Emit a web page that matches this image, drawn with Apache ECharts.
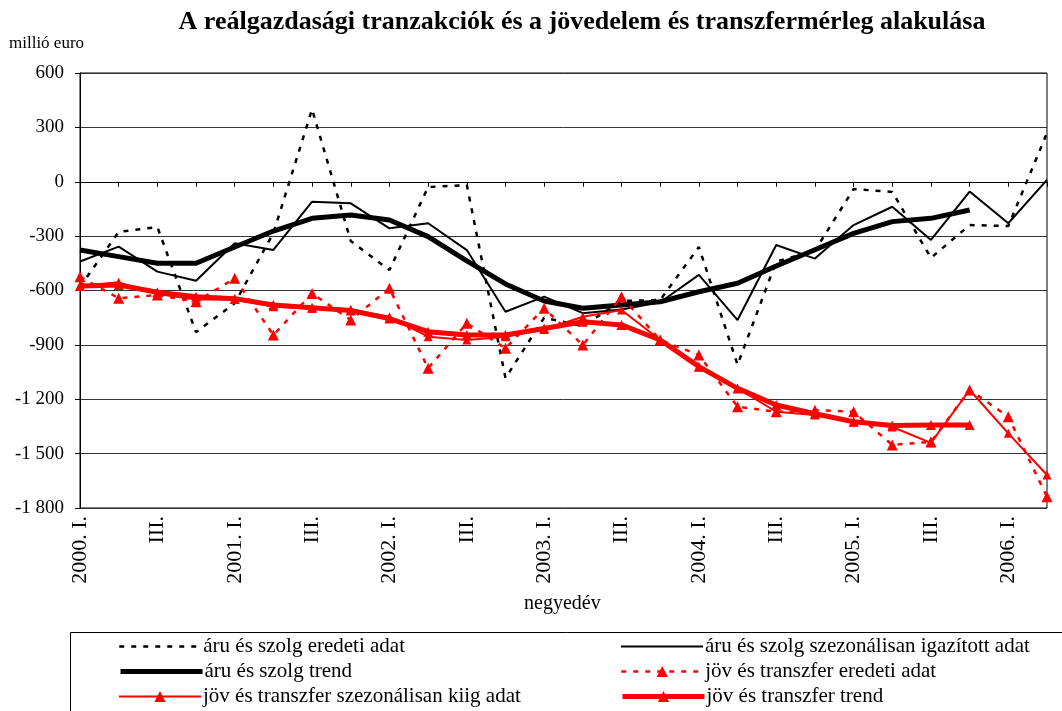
<!DOCTYPE html>
<html>
<head>
<meta charset="utf-8">
<script src="https://cdn.jsdelivr.net/npm/echarts@6/dist/echarts.min.js"></script>
<style>
html,body{margin:0;padding:0;background:#fff;}
#chart{width:1062px;height:711px;}
</style>
</head>
<body>
<div id="chart"></div>
<script>
const categories = [
  '2000. I.','II.','III.','IV.',
  '2001. I.','II.','III.','IV.',
  '2002. I.','II.','III.','IV.',
  '2003. I.','II.','III.','IV.',
  '2004. I.','II.','III.','IV.',
  '2005. I.','II.','III.','IV.',
  '2006. I.','II.'
];
const aruEredeti = [-580,-277,-250,-830,-670,-283,400,-327,-487,-29,-18,-1083,-750,-796,-658,-652,-360,-1010,-440,-380,-40,-56,-420,-239,-244,269];
const aruSzezon  = [-440,-358,-496,-546,-339,-376,-110,-119,-257,-229,-377,-717,-634,-725,-705,-665,-514,-763,-349,-424,-239,-138,-321,-54,-229,10];
const aruTrend   = [-377,-413,-450,-450,-360,-272,-202,-183,-211,-303,-437,-564,-658,-698,-680,-662,-607,-560,-465,-375,-285,-220,-202,-156,null,null];
const jovEredeti = [-524,-643,-625,-662,-533,-846,-616,-763,-588,-1029,-781,-919,-698,-901,-634,-873,-956,-1241,-1269,-1260,-1269,-1452,-1435,-1149,-1296,-1738];
const jovSzezon  = [-575,-555,-620,-650,-650,-689,-698,-705,-745,-855,-873,-855,-815,-745,-708,-873,-1020,-1140,-1269,-1287,-1324,-1353,-1441,-1149,-1388,-1618];
const jovTrend   = [-575,-570,-610,-635,-645,-680,-695,-710,-755,-827,-845,-845,-810,-772,-790,-873,-1020,-1140,-1232,-1280,-1324,-1345,-1342,-1342,null,null];
const seriesNames = [
  'áru és szolg eredeti adat',
  'áru és szolg szezonálisan igazított adat',
  'áru és szolg trend',
  'jöv és transzfer eredeti adat',
  'jöv és transzfer szezonálisan kiig adat',
  'jöv és transzfer trend'
];

const serif = 'Liberation Serif';
const lineStyles = [
  {color:'#000', width:2.5, type:[5,7]},
  {color:'#000', width:2},
  {color:'#000', width:5},
  {color:'#ff0000', width:2.5, type:[5,7]},
  {color:'#ff0000', width:2},
  {color:'#ff0000', width:5}
];
const legendPos = [[118,648],[620,648],[118,673],[620,673],[118,698],[620,698]];
const legends = seriesNames.map(function(n, i){
  const item = {name:n, lineStyle:lineStyles[i]};
  if (i < 3) item.itemStyle = {opacity:0};
  return {
    data:[item], orient:'horizontal', left:legendPos[i][0], top:legendPos[i][1]-12, padding:0,
    itemWidth:82, itemHeight:14, selectedMode:false,
    textStyle:{fontFamily:serif, fontSize:21, color:'#000', padding:[0,0,0,-3]}
  };
});

const chart = echarts.init(document.getElementById('chart'), null, {renderer:'canvas'});
chart.setOption({
  backgroundColor:'#fff',
  animation:false,
  title:{
    text:'A reálgazdasági tranzakciók és a jövedelem és transzfermérleg alakulása',
    left:577, top:4, textAlign:'center',
    textStyle:{fontFamily:serif, fontWeight:'bold', fontSize:26, color:'#000'}
  },
  graphic:[
    {type:'text', left:9, top:35, style:{text:'millió euro', fontFamily:serif, fontSize:17, fill:'#000'}},
    {type:'text', left:524, top:594, style:{text:'negyedév', fontFamily:serif, fontSize:20, fill:'#000'}},
    {type:'rect', shape:{x:70.5, y:632.5, width:1000, height:100}, style:{fill:'none', stroke:'#000', lineWidth:1}}
  ],
  legend:legends,
  grid:{left:80, right:15, top:73, bottom:203, show:true, borderColor:'#000', borderWidth:1},
  xAxis:{
    type:'category', data:categories, boundaryGap:false,
    axisLine:{lineStyle:{color:'#000', width:1}},
    axisTick:{show:true, interval:0, length:5, inside:false, lineStyle:{color:'#000'}},
    axisLabel:{interval:1, rotate:90, fontFamily:serif, fontSize:22, color:'#000', margin:8},
    splitLine:{show:false}
  },
  yAxis:{
    type:'value', min:-1800, max:600, interval:300,
    axisLine:{show:true, lineStyle:{color:'#000', width:1}},
    axisTick:{show:true, length:5, lineStyle:{color:'#000'}},
    axisLabel:{fontFamily:serif, fontSize:19, color:'#000', margin:16,
      formatter:function(v){ return String(v).replace(/\B(?=(\d{3})+(?!\d))/g,' '); }},
    splitLine:{show:true, lineStyle:{color:'#333', width:1}}
  },
  series:[
    {name:seriesNames[0], type:'line', data:aruEredeti, symbol:'none', color:'#000', lineStyle:lineStyles[0]},
    {name:seriesNames[1], type:'line', data:aruSzezon, symbol:'none', color:'#000', lineStyle:lineStyles[1]},
    {name:seriesNames[2], type:'line', data:aruTrend, symbol:'none', color:'#000', lineStyle:lineStyles[2]},
    {name:seriesNames[3], type:'line', data:jovEredeti, symbol:'triangle', symbolSize:11, showAllSymbol:true, color:'#ff0000',
     itemStyle:{color:'#ff0000'}, lineStyle:lineStyles[3]},
    {name:seriesNames[4], type:'line', data:jovSzezon, symbol:'triangle', symbolSize:9, showAllSymbol:true, color:'#ff0000',
     itemStyle:{color:'#ff0000'}, lineStyle:lineStyles[4]},
    {name:seriesNames[5], type:'line', data:jovTrend, symbol:'triangle', symbolSize:10, showAllSymbol:true, color:'#ff0000',
     itemStyle:{color:'#ff0000'}, lineStyle:lineStyles[5]}
  ]
});
</script>
</body>
</html>
